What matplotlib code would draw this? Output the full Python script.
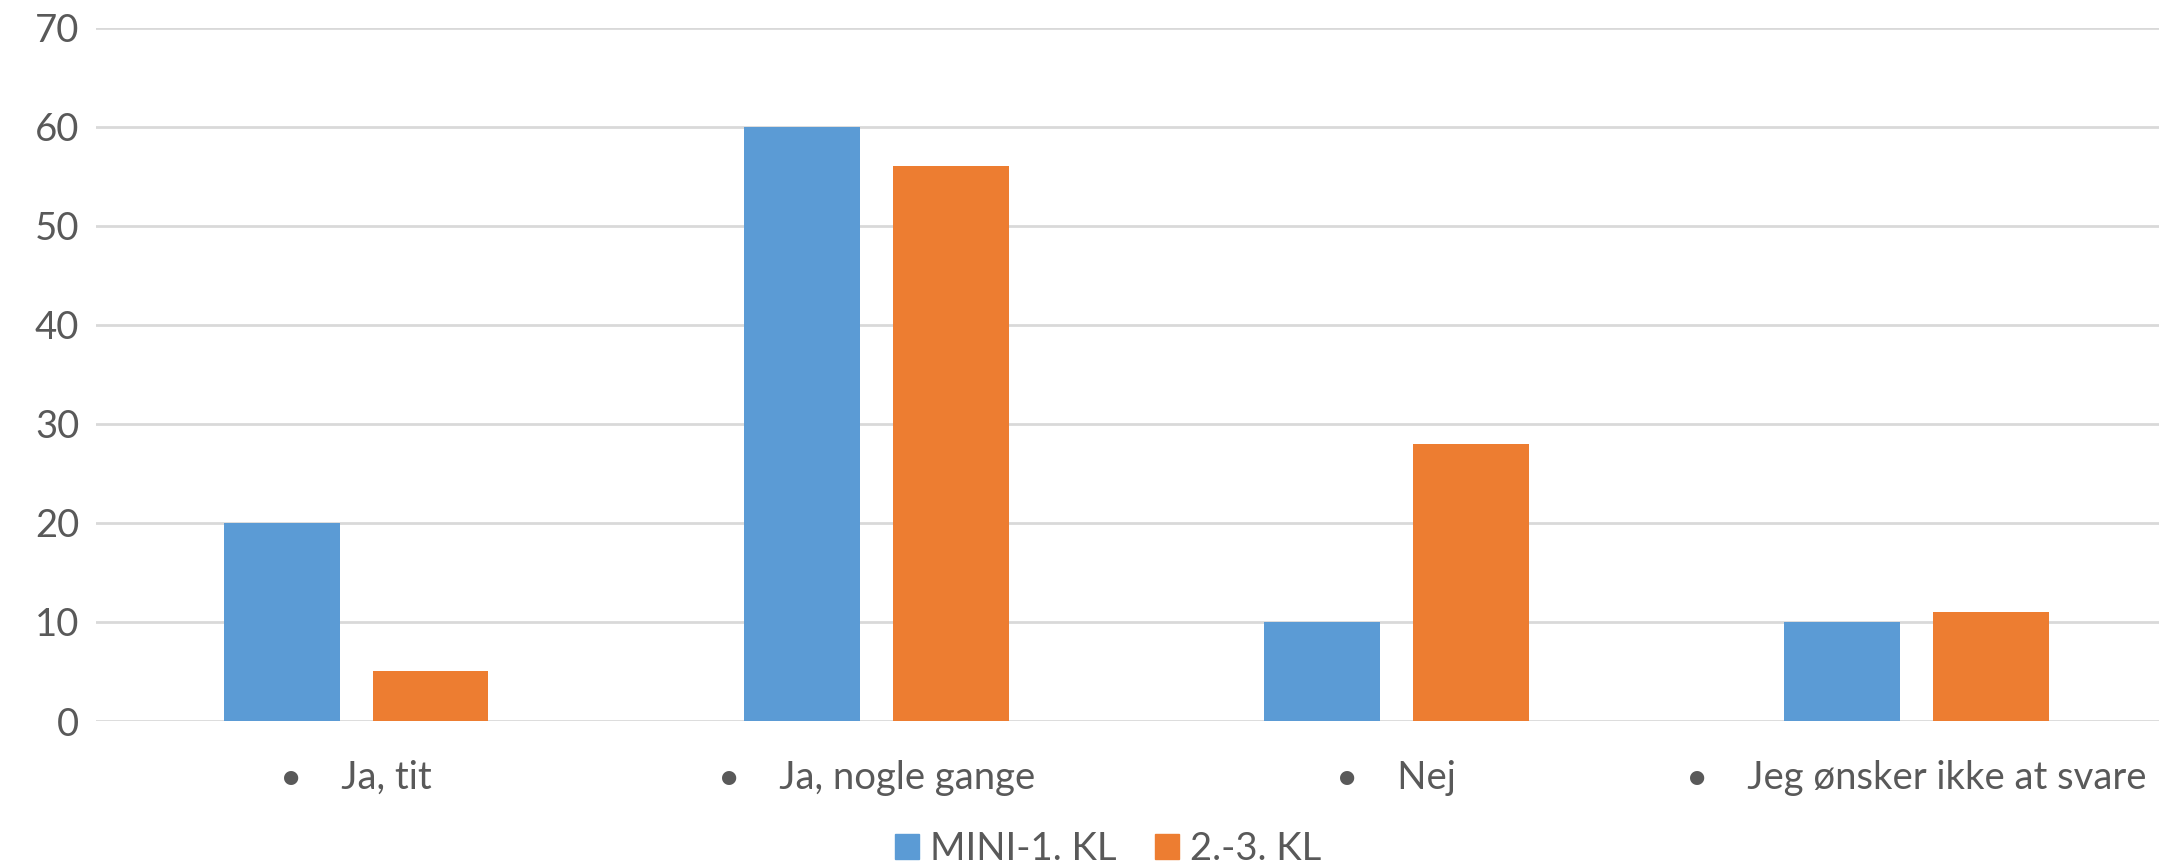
import matplotlib
matplotlib.use("Agg")
import matplotlib.pyplot as plt
from matplotlib.patches import Patch
import numpy as np

categories = ["Ja, tit", "Ja, nogle gange", "Nej", "Jeg ønsker ikke at svare"]
series_names = ["MINI-1. KL", "2.-3. KL"]
mini_values = [20, 60, 10, 10]
older_values = [5, 56, 28, 11]
yticks = [0, 10, 20, 30, 40, 50, 60, 70]

blue = "#5B9BD5"
orange = "#ED7D31"
txt = "#595959"
grid = "#D9D9D9"

plt.rcParams['font.family'] = ['Lato', 'DejaVu Sans']
FS = 27.5

W, H = 2159, 868
fig = plt.figure(figsize=(W/100, H/100), dpi=100)
ax = fig.add_axes([96/W, (H-721)/H, 1-96/W, (721-27.5)/H])

x = np.arange(len(categories))
bw = 0.2225
off = 0.143
ax.bar(x - off, mini_values, bw, color=blue, zorder=3)
ax.bar(x + off, older_values, bw, color=orange, zorder=3)

ax.set_xlim(-0.5, 3.466)
ax.set_ylim(0, 70)
ax.set_yticks(yticks)
ax.yaxis.grid(True, color=grid, linewidth=2)
ax.set_axisbelow(True)
for s in ax.spines.values():
    s.set_visible(False)
ax.tick_params(axis='y', length=0, pad=12, labelsize=FS, labelcolor=txt)
ax.tick_params(axis='x', length=0, pad=28, labelsize=FS, labelcolor=txt)
ax.set_xticks(x)
ax.set_xticklabels(["•    " + c for c in categories])

handles = [Patch(color=blue), Patch(color=orange)]
fig.legend(handles, series_names, loc='center', bbox_to_anchor=(1108/W, 1-849/H),
           ncol=2, frameon=False, fontsize=FS, labelcolor=txt,
           handlelength=0.63, handleheight=0.63, handletextpad=0.3, columnspacing=1.0,
           borderpad=0.1)

fig.savefig("out.png", dpi=100)
